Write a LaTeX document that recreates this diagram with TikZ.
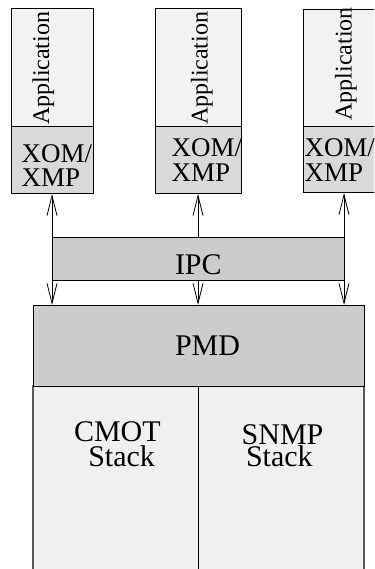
\documentclass[tikz,border=0pt]{standalone}
\usepackage{fontspec}
\setmainfont{Liberation Serif}
\usetikzlibrary{arrows.meta}
\newcommand{\twolines}[4]{\vtop{\baselineskip=#1\lineskiplimit=-100pt\hbox{#2}\hbox{\hskip#3 #4}}}
\begin{document}
\begin{tikzpicture}[x=1pt,y=-1pt,
  boxbase/.style={draw=black,line width=1pt,inner sep=0pt,outer sep=0pt,anchor=north west},
  appbox/.style={boxbase,fill=black!5},
  xombox/.style={boxbase,fill=black!15},
  ipcbox/.style={boxbase,fill=black!20,line width=0.8pt},
  stackbox/.style={boxbase,fill=black!6,draw=black!65,line width=1.2pt},
  txt/.style={inner sep=0pt,outer sep=0pt,anchor=base west},
  apptext/.style={txt,rotate=90,font=\fontsize{24}{24}\selectfont},
  xomtext/.style={txt,font=\fontsize{27}{27}\selectfont},
  bigtext/.style={txt,font=\fontsize{30}{30}\selectfont},
  conn/.style={line width=0.8pt,-{Straight Barb[length=20pt,width=10pt,line width=0.8pt]}}
]
\useasboundingbox (0,0) rectangle (374,569);
\clip (0,0) rectangle (374,569);

% lower stack boxes
\node[stackbox,minimum width=165.5pt,minimum height=200pt] (cmot) at (33,386) {};
\node[stackbox,minimum width=165.5pt,minimum height=200pt] (snmp) at (198.5,386) {};
\draw[line width=1pt] (cmot.north east) -- (cmot.south east);
% PMD
\node[ipcbox,line width=1pt,minimum width=331pt,minimum height=81pt] (pmd) at (33,305) {};
% IPC
\node[ipcbox,minimum width=292pt,minimum height=43pt] (ipc) at (52,237) {};

% application boxes
\node[appbox,minimum width=82pt,minimum height=118pt] (app1) at (11,9) {};
\node[xombox,minimum width=82pt,minimum height=67pt] (xom1) at (11,127) {};
\node[appbox,minimum width=86.5pt,minimum height=118pt] (app2) at (155,9) {};
\node[xombox,minimum width=86.5pt,minimum height=67pt] (xom2) at (155,127) {};
\node[appbox,minimum width=86pt,minimum height=117.5pt] (app3) at (303.5,9.5) {};
\node[xombox,minimum width=86pt,minimum height=66pt] (xom3) at (303.5,127) {};

% texts
\node[apptext] (t1) at (49,125) {Application};
\node[apptext] (t2) at (207.5,125) {Application};
\node[apptext] (t3) at (351.5,120.5) {Application};
\node[xomtext] (x1) at (21.7,162.5) {\twolines{24.5pt}{XOM/}{0pt}{XMP}};
\node[xomtext] (x2) at (171.7,156.7) {\twolines{25pt}{XOM/}{0pt}{XMP}};
\node[xomtext] (x3) at (304.5,156.7) {\twolines{25pt}{XOM/}{0pt}{XMP}};
\node[bigtext] (ipct) at (175,274) {IPC};
\node[bigtext] (pmdt) at (175,355) {PMD};
\node[bigtext] (cmott) at (74,441.7) {\twolines{25pt}{CMOT}{14.3pt}{Stack}};
\node[bigtext] (snmpt) at (241.7,444) {\twolines{22.7pt}{SNMP}{4.3pt}{Stack}};

% connectors
\draw[conn] (ipc.north west) -- (ipc.north west |- xom1.south);
\draw[conn] (ipc.north) -- (ipc.north |- xom2.south);
\draw[conn] (ipc.north east) -- (ipc.north east |- xom3.south);
\draw[conn] (ipc.south west) -- (ipc.south west |- pmd.north);
\draw[conn] (ipc.south) -- (ipc.south |- pmd.north);
\draw[conn] (ipc.south east) -- (ipc.south east |- pmd.north);
\end{tikzpicture}
\end{document}
